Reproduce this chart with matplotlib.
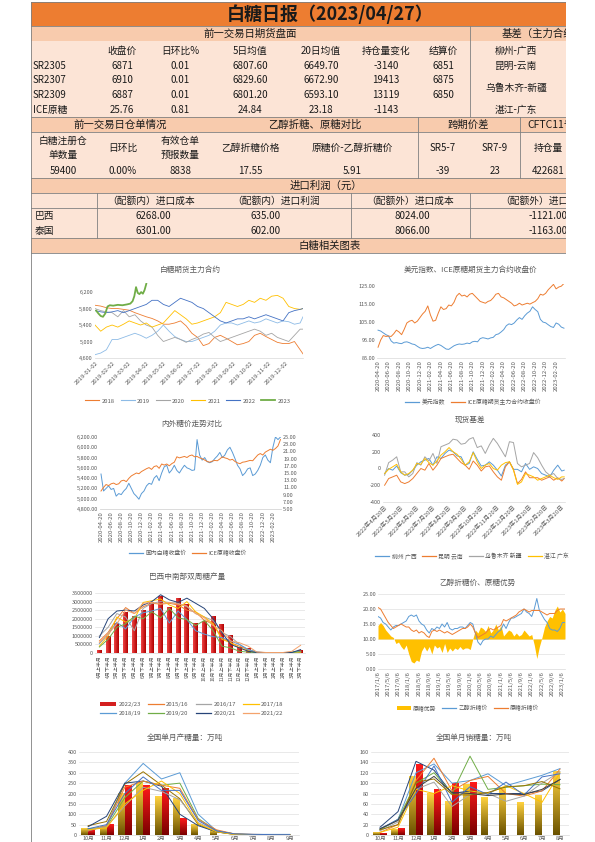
import numpy as np
import matplotlib
matplotlib.use('Agg')
import matplotlib.pyplot as plt
from matplotlib.colors import LinearSegmentedColormap
from matplotlib.patches import Rectangle, Patch
from matplotlib.lines import Line2D

plt.rcParams['font.family'] = ['Noto Sans CJK SC', 'DejaVu Sans']
plt.rcParams['axes.unicode_minus'] = False

# ---------------- table data ----------------
fut_names = ['SR2305', 'SR2307', 'SR2309', 'ICE原糖']
fut_close = ['6871', '6910', '6887', '25.76']
fut_chg = ['0.01', '0.01', '0.01', '0.81']
fut_ma5 = ['6807.60', '6829.60', '6801.20', '24.84']
fut_ma20 = ['6649.70', '6672.90', '6593.10', '23.18']
fut_oi = ['-3140', '19413', '13119', '-1143']
fut_settle = ['6851', '6875', '6850', '']
basis_names = ['柳州-广西', '昆明-云南', '乌鲁木齐-新疆', '湛江-广东']

wr_vals = ['59400', '0.00%', '8838', '17.55', '5.91', '-39', '23', '422681']
imp_names = ['巴西', '泰国']
imp_cost_in = ['6268.00', '6301.00']
imp_prof_in = ['635.00', '602.00']
imp_cost_out = ['8024.00', '8066.00']
imp_prof_out = ['-1121.00', '-1163.00']

# ---------------- chart 1: 白糖期货主力合约 ----------------
days = list(range(0, 361, 10)) + [365]
sr2018 = [5880, 5860, 5820, 5800, 5800, 5780, 5760, 5700, 5650, 5600, 5560, 5500, 5420, 5420, 5450, 5500, 5380, 5200, 5100,
          4900, 4950, 5100, 5150, 5080, 5000, 4920, 4950, 5000, 5150, 5200, 5120, 5050, 4980, 4950, 4950, 5000, 4800, 4700]
sr2019 = [4680, 4720, 4800, 5050, 5050, 5100, 5150, 5200, 5150, 5080, 5150, 5250, 5400, 5250, 5120, 5050, 5000, 5000, 5050,
          5100, 5150, 5250, 5400, 5450, 5450, 5400, 5450, 5500, 5450, 5480, 5550, 5500, 5450, 5500, 5480, 5420, 5450, 5600]
sr2020 = [5800, 5750, 5720, 5700, 5600, 5750, 5600, 5650, 5500, 5400, 5350, 5150, 5000, 5050, 5100, 5050, 4980, 5050, 5100,
          5180, 5220, 5100, 5000, 5050, 5100, 5150, 5200, 5250, 5300, 5250, 5150, 5200, 5100, 5050, 5000, 5150, 5300, 5300]
sr2021 = [5400, 5250, 5350, 5400, 5350, 5420, 5500, 5450, 5400, 5450, 5350, 5400, 5450, 5600, 5750, 5650, 5550, 5420, 5450,
          5500, 5550, 5600, 5700, 5950, 5900, 5850, 5900, 6000, 5950, 6050, 6000, 6100, 6120, 6050, 5850, 5800, 5780, 5800]
sr2022 = [5750, 5720, 5700, 5720, 5750, 5700, 5750, 5800, 5850, 5900, 6000, 6000, 5900, 5850, 5950, 6050, 6000, 5950, 5850,
          5800, 5700, 5600, 5500, 5450, 5500, 5550, 5550, 5600, 5550, 5600, 5650, 5600, 5550, 5500, 5700, 5750, 5780, 5800]
days23 = [2, 6, 10, 14, 18, 22, 26, 32, 40, 48, 56, 62, 66, 69, 72, 75, 78, 81, 84, 87, 90]
sr2023 = [5750, 5680, 5620, 5600, 5680, 5850, 5880, 5870, 5890, 5880, 5900, 5920, 5980, 6100, 6320, 6180, 6150, 6200, 6160,
          6250, 6400]
c1_ticks = [1, 32, 60, 91, 121, 152, 182, 213, 244, 274, 305, 335]
c1_labels = ['2019-%02d-02' % m for m in range(1, 13)]

# ---------------- chart 2 / 3: month index from 2020-04-20 ----------------
m_half = [i * 0.5 for i in range(72)]
dxy = [100.5, 100, 99, 98, 97.3, 94.5, 93.3, 93.6, 93.2, 93, 93.8, 94, 93.5, 92.8, 92.5, 91.5, 90.6, 90.3, 90.5, 91,
       90.3, 91.2, 92, 92.6, 92, 91, 90, 89.8, 90.8, 91.8, 92.4, 92.8, 92.6, 92.8, 93.3, 93, 94, 94.3, 94, 95.8,
       96.3, 96, 95.6, 96.2, 96.5, 98, 98.4, 99.5, 100.8, 103, 104, 103.6, 104.5, 106.2, 107.5, 106.5, 108.5, 110, 111,
       113.5, 112, 110.8, 106.5, 105, 104.6, 103.5, 102.5, 102, 104.5, 103.8, 102.2, 101.6]
ice_idx = [91, 95, 97.5, 97, 97.2, 97, 98.5, 100.5, 99.5, 98, 101, 104.5, 105.5, 106, 104.5, 105.5, 107.5, 109.5, 111, 114,
           109, 105.5, 106, 110, 113.5, 112, 112.5, 114.5, 114, 116, 119.5, 121, 119.5, 120, 119, 120.5, 121, 119.5, 118,
           116.5, 116, 115.5, 116.5, 117, 118.5, 120.5, 121, 119, 118.5, 117.5, 116.5, 115.5, 114, 114.5, 115.5, 114.5,
           115, 115.5, 115, 115.8, 116.5, 118, 120.5, 120, 121, 123, 124.5, 126, 123.5, 124.5, 125, 126.5]
dom_close = [5480, 5150, 5200, 5250, 5180, 5200, 5050, 5100, 5080, 5150, 5200, 5300, 5200, 5100, 5050, 4990, 5100, 5150,
             5250, 5300, 5280, 5400, 5450, 5350, 5500, 5620, 5650, 5500, 5560, 5650, 5550, 5500, 5580, 5650, 5600, 5580,
             5550, 5560, 6150, 5850, 5750, 5800, 5720, 5700, 5720, 5780, 5830, 5900, 5800, 5850, 5950, 6000, 5900, 5780,
             5650, 5580, 5450, 5500, 5580, 5600, 5450, 5480, 5550, 5650, 5800, 5850, 5750, 5700, 6000, 6200, 6150, 6200]
ice_close = [10, 11, 11.8, 11.5, 12, 12.2, 11.8, 12, 12.8, 13, 12.6, 13.5, 14.2, 14.6, 15, 14.8, 15.4, 15.8, 16.2, 16.5,
             16, 16.8, 17, 16.3, 17.5, 17.2, 17.5, 17, 17.6, 18, 19.5, 19.2, 19.4, 19.6, 19.3, 19.8, 20, 19.5, 19.6, 19.2,
             19, 18.6, 18.2, 18, 18.3, 18.5, 18.4, 18.9, 19.5, 19.2, 19, 18.6, 18.8, 18.2, 17.8, 17.6, 18, 18.1, 18.3, 18.5,
             18.4, 19.2, 20, 20.4, 20, 20.8, 21.2, 21.6, 21.3, 21.8, 22.5, 24.3]
m2_labels = ['2020-04-20', '2020-06-20', '2020-08-20', '2020-10-20', '2020-12-20', '2021-02-20', '2021-04-20',
             '2021-06-20', '2021-08-20', '2021-10-20', '2021-12-20', '2022-02-20', '2022-04-20', '2022-06-20',
             '2022-08-20', '2022-10-20', '2022-12-20', '2023-02-20']

# ---------------- chart 4: 现货基差 ----------------
n_q = [i * 0.25 for i in range(45)] + [11.15]
b_liuzhou = [-60, 0, -20, 30, -50, -80, -70, -20, 40, 80, 100, 120, 40, 140, 120, 180, 220, 200, 150, 140, 40, 60, 200, 110,
             30, 40, 80, 40, -20, -90, 40, 80, -10, -10, -40, 60, -10, 20, 0, -60, -80, -100, -20, 40, -30, -20]
b_kunming = [-200, -120, -100, -80, -160, -180, -160, -120, -60, 0, -20, 60, -20, 40, 120, 140, 160, 170, 120, 70, 40, -10,
             90, 40, -30, 20, 30, -40, -100, -140, 20, 80, -10, -180, -130, -40, -110, -110, -110, -140, -120, -100, -140,
             -110, -150, -120]
b_urumqi = [-80, 70, 100, 140, -40, -40, -100, -60, 70, 40, 140, 90, 180, 60, 260, 280, 300, 350, 340, 290, 300, 350, 370,
            250, 270, 180, 280, 360, 300, 220, 140, 320, 310, 60, 20, 40, 60, 190, 130, 40, -40, -80, -60, -120, -130, -120]
b_zhanjiang = [-60, -10, 20, 50, -40, -80, -60, -20, 60, 50, 120, 70, 40, 90, 160, 200, 250, 200, 170, 110, 40, 80, 190, 80,
               0, 40, 60, 0, -20, 40, 70, 80, -20, -190, -160, -60, -80, -100, -140, -120, -100, -80, -110, -130, -100, -100]
c4_labels = ['2022年%d月20日' % m for m in range(4, 13)] + ['2023年%d月20日' % m for m in range(1, 4)]

# ---------------- chart 5: 巴西中南部双周糖产量 ----------------
half_months = [m + h for m in ['4月', '5月', '6月', '7月', '8月', '9月', '10月', '11月', '12月', '1月', '2月', '3月']
               for h in ['上半月', '下半月']]
br_2223 = [120000, 950000, 1700000, 2350000, 2150000, 2500000, 2950000, 3300000, 2650000, 3150000, 2850000, 1700000,
           1850000, 2150000, 1650000, 1000000, 300000, 250000, 0, 30000, 0, 0, 0, 150000]
br_1516 = [700000, 1200000, 2000000, 2650000, 2300000, 2700000, 2900000, 2850000, 2900000, 2800000, 2500000, 2400000,
           1900000, 1700000, 900000, 600000, 400000, 200000, 50000, 30000, 20000, 20000, 30000, 100000]
br_1617 = [1000000, 1500000, 2300000, 2100000, 1300000, 2600000, 2900000, 3000000, 2950000, 2900000, 2700000, 2300000,
           2100000, 1900000, 1200000, 950000, 500000, 200000, 50000, 20000, 20000, 20000, 30000, 60000]
br_1718 = [400000, 1000000, 2100000, 1800000, 2000000, 2950000, 3050000, 3150000, 2800000, 2600000, 3000000, 2400000,
           2100000, 1700000, 800000, 600000, 300000, 150000, 30000, 20000, 20000, 20000, 30000, 50000]
br_1819 = [550000, 1100000, 1800000, 1400000, 2100000, 2350000, 2450000, 2600000, 1750000, 2450000, 1950000, 1300000,
           1100000, 950000, 900000, 700000, 500000, 200000, 50000, 20000, 20000, 20000, 50000, 100000]
br_1920 = [350000, 800000, 1500000, 1700000, 2150000, 2000000, 2400000, 2050000, 2600000, 2050000, 1950000, 1600000,
           1900000, 1300000, 400000, 300000, 100000, 50000, 20000, 20000, 20000, 20000, 40000, 80000]
br_2021 = [900000, 2000000, 2450000, 2500000, 2450000, 2800000, 3000000, 3400000, 3100000, 2950000, 3200000, 2900000,
           2600000, 2000000, 1200000, 500000, 300000, 100000, 30000, 20000, 20000, 20000, 30000, 200000]
br_2122 = [600000, 1100000, 1700000, 2500000, 2300000, 2900000, 2950000, 2850000, 2950000, 2850000, 2750000, 2300000,
           2050000, 1600000, 1300000, 700000, 600000, 400000, 50000, 30000, 30000, 30000, 100000, 450000]

# ---------------- chart 6: 乙醇折糖价、原糖优势 (month index from 2017/1/6) ----------------
t_month = list(range(74))
raw_adv = [14.5, 15.5, 14.5, 13, 12, 11, 10.5, 8.5, 9, 7.5, 6.5, 8, 5, 2.5, 2, 3, 2.5, 6, 7.5, 6, 7.5, 5, 8, 7, 7.5, 5.5,
           8.5, 5.5, 7, 6, 7, 6.5, 7.5, 6.5, 7, 7, 6.5, 10, 13, 12, 14, 13.5, 12.5, 14.5, 12, 13, 15, 13, 14.5, 11, 12, 13,
           12.5, 11, 12, 11, 11.5, 13, 12, 11, 11.5, 8, 3.5, 7.5, 10.5, 14, 16, 17.5, 17, 19.5, 21, 19, 20, 18.5]
ethanol_px = [17.5, 17, 15.5, 15, 14, 13, 14, 14.5, 14.5, 15, 15.5, 16, 17.5, 18, 17.5, 18, 16, 15, 14.5, 13, 12, 13.5, 13,
              14, 13.5, 15, 14, 15.5, 13.5, 13, 13.5, 13.5, 14, 14, 13.5, 14.5, 15.5, 15, 12, 9, 8, 9.5, 10, 10, 11, 10.5,
              11.5, 12.5, 13, 15, 13.5, 15.5, 17, 17, 17.5, 18, 18.5, 20, 19, 18.5, 17.5, 20, 23.5, 19.5, 18, 16.5, 15.5,
              13.5, 13, 13, 12.5, 13.5, 15.5, 15.5]
raw_px = [20.5, 20, 18.5, 17, 15.5, 14.5, 13.5, 14, 14.5, 15, 14.5, 14, 14, 13, 12.5, 13, 12, 12.5, 12, 11, 10.5, 12.5, 13,
          12.5, 13, 12.5, 12, 12.5, 12, 11.5, 12, 12.5, 13, 13.5, 13.5, 14, 15, 14, 12, 10.5, 11, 11.5, 12, 13, 13.5, 13,
          13.5, 14, 14.5, 16.5, 16, 16.5, 17, 17.5, 18, 19, 19.5, 20, 19.5, 19, 19.5, 19.5, 19.5, 19.5, 19, 18.5, 18,
          18.5, 18.5, 18.5, 19.5, 20, 20, 20]
c6_labels = ['%d/%d/6' % (2017 + k // 3, [1, 5, 9][k % 3]) for k in range(19)]

# ---------------- chart 7: 全国单月产糖量 ----------------
months12 = ['10月', '11月', '12月', '1月', '2月', '3月', '4月', '5月', '6月', '7月', '8月', '9月']
prod_prev = [30, 40, 200, 255, 185, 175, 50, 20, 0, 0, 0, 0]
prod_cur = [20, 50, 240, 240, 225, 80]
prod_l1 = [20, 45, 250, 345, 270, 300, 100, 20, 5, 3, 3, 3]
prod_l2 = [45, 65, 245, 305, 240, 175, 50, 15, 3, 2, 2, 2]
prod_l3 = [40, 90, 250, 260, 235, 100, 45, 15, 3, 2, 2, 2]
prod_l4 = [30, 40, 180, 260, 240, 250, 80, 20, 5, 2, 2, 2]
prod_l5 = [20, 45, 230, 260, 240, 225, 75, 25, 5, 3, 2, 2]
prod_l6 = [25, 40, 140, 230, 210, 170, 60, 20, 3, 2, 2, 2]
prod_l7 = [25, 35, 150, 215, 260, 200, 55, 15, 2, 2, 2, 2]
prod_l8 = [30, 50, 200, 280, 215, 215, 70, 20, 5, 3, 2, 2]

# ---------------- chart 8: 全国单月销糖量 ----------------
months11 = months12[:11]
sale_prev = [4, 10, 112, 80, 65, 98, 73, 90, 63, 76, 122]
sale_cur = [2, 12, 135, 87, 100, 101]
sale_l1 = [15, 45, 142, 125, 80, 85, 80, 80, 80, 85, 107]
sale_l2 = [10, 30, 120, 137, 100, 105, 118, 95, 105, 115, 128]
sale_l3 = [5, 20, 105, 148, 85, 105, 113, 80, 75, 85, 127]
sale_l4 = [10, 30, 100, 120, 80, 152, 88, 92, 95, 98, 97]
sale_l5 = [8, 25, 88, 102, 55, 78, 80, 65, 75, 100, 122]
sale_l6 = [5, 15, 88, 80, 95, 85, 80, 95, 80, 63, 120]
sale_l7 = [12, 30, 80, 133, 63, 93, 78, 102, 77, 112, 118]
sale_l8 = [10, 20, 102, 108, 78, 77, 82, 93, 95, 103, 89]
sale_l9 = [12, 28, 90, 113, 82, 80, 76, 79, 78, 88, 107]

# ---------------- layout helpers ----------------
W, H = 595, 842
fig = plt.figure(figsize=(W / 100, H / 100), dpi=100)
GRAY = '#595959'


def box(l, t, r, b):
    return [l / W, 1 - b / H, (r - l) / W, (b - t) / H]


def ftext(x, y, s, size=5.5, **kw):
    fig.text(x / W, 1 - y / H, s, fontsize=size, ha='center', va='center', color=kw.pop('color', GRAY), **kw)


def style(ax, grid=False):
    for s in ['top', 'right', 'left']:
        ax.spines[s].set_visible(False)
    ax.spines['bottom'].set_color('#D9D9D9')
    ax.spines['bottom'].set_linewidth(0.5)
    ax.tick_params(length=0, labelsize=4, colors=GRAY, pad=1.5)
    if grid:
        ax.yaxis.grid(True, color='#D9D9D9', lw=0.4)
        ax.set_axisbelow(True)


def legend(handles, labels, x, y, ncol, size=4.2):
    fig.legend(handles, labels, loc='center', bbox_to_anchor=(x / W, 1 - y / H), ncol=ncol, frameon=False,
               fontsize=size, handlelength=2.4, handletextpad=0.4, columnspacing=1.0, labelcolor=GRAY,
               borderaxespad=0, borderpad=0)


def grad_bar(ax, x, w, h, cmap, horizontal=False):
    if h <= 0:
        return
    img = np.linspace(0, 1, 64).reshape(1, -1) if horizontal else np.linspace(0, 1, 64).reshape(-1, 1)
    ax.imshow(img, extent=(x - w / 2, x + w / 2, 0, h), cmap=cmap, aspect='auto', origin='lower', zorder=2,
              interpolation='bilinear')


red_v = LinearSegmentedColormap.from_list('rv', ['#7A0000', '#FF1A1A'])
red_h = LinearSegmentedColormap.from_list('rh', ['#F04545', '#B00000'])
gold_v = LinearSegmentedColormap.from_list('gv', ['#6B5200', '#FFD23F'])

# ---------------- table ----------------
tb = fig.add_axes(box(0, 0, 566, 842))
tb.set_xlim(0, 566)
tb.set_ylim(842, 0)
tb.axis('off')


def fill(y0, y1, c):
    tb.add_patch(Rectangle((31, y0), 566 - 31, y1 - y0, facecolor=c, edgecolor='none', zorder=0))


def hl(y, x0=31, x1=566):
    tb.plot([x0, x1], [y, y], color='#808080', lw=0.6, zorder=1)


def vl(x, y0, y1):
    tb.plot([x, x], [y0, y1], color='#808080', lw=0.6, zorder=1)


def t(x, y, s, ha='center', size=7, **kw):
    tb.text(x, y, s, ha=ha, va='center', fontsize=size, clip_on=True, color=kw.pop('color', '#1A1A1A'), **kw)


fill(2, 26, '#ED7D31')
for y0, y1 in [(26, 41), (117, 132), (178, 193), (238, 253)]:
    fill(y0, y1, '#F8CBAD')
for y0, y1 in [(41, 117), (132, 178), (193, 238)]:
    fill(y0, y1, '#FCE4D6')
for y in [2, 26, 117, 132, 178, 193, 208, 238, 253]:
    hl(y)
vl(31, 2, 842)
vl(470, 26, 117)
vl(418, 117, 178)
vl(520, 117, 178)
vl(97, 193, 238)
vl(351, 193, 238)
vl(470, 193, 238)

t(330, 14, '白糖日报（2023/04/27）', size=13, weight='bold')
t(250, 33.5, '前一交易日期货盘面', size=7.5)
t(502, 33.5, '基差（主力合约）', ha='left', size=7.5)
col_x = [122, 180, 250, 321, 386, 443]
for x, s in zip(col_x, ['收盘价', '日环比%', '5日均值', '20日均值', '持仓量变化', '结算价']):
    t(x, 51, s)
row_y = [66, 80, 95, 110]
for i, y in enumerate(row_y):
    t(33, y, fut_names[i], ha='left')
    for x, col in zip(col_x, [fut_close, fut_chg, fut_ma5, fut_ma20, fut_oi, fut_settle]):
        t(x, y, col[i])
for y, s in zip([51, 66, 88, 110], basis_names):
    t(516, y, s)

t(120, 124.5, '前一交易日仓单情况', size=7.5)
t(315, 124.5, '乙醇折糖、原糖对比', size=7.5)
t(468, 124.5, '跨期价差', size=7.5)
t(527, 124.5, 'CFTC11号糖', ha='left', size=7.5)
wr_x = [63, 123, 180, 250, 352, 443, 495, 548]
for x, s in zip(wr_x, ['白糖注册仓\n单数量', '日环比', '有效仓单\n预报数量', '乙醇折糖价格', '原糖价-乙醇折糖价',
                       'SR5-7', 'SR7-9', '持仓量']):
    t(x, 148, s, linespacing=1.6)
for x, s in zip(wr_x, wr_vals):
    t(x, 171, s)

t(326, 185.5, '进口利润（元）', size=7.5)
t(151, 201, '（配额内）进口成本')
t(276, 201, '（配额内）进口利润')
t(410, 201, '（配额外）进口成本')
t(500, 201, '（配额外）进口利润', ha='left')
for i, y in enumerate([216, 231]):
    t(35, y, imp_names[i], ha='left')
    t(153, y, imp_cost_in[i])
    t(266, y, imp_prof_in[i])
    t(412, y, imp_cost_out[i])
    t(548, y, imp_prof_out[i])
t(330, 245.5, '白糖相关图表', size=7.5)

# ---------------- chart 1 ----------------
c1 = fig.add_axes(box(95, 283, 303, 358))
style(c1)
cols1 = ['#ED7D31', '#8DBBE6', '#A5A5A5', '#FFC000', '#4472C4', '#70AD47']
for ser, c in zip([sr2018, sr2019, sr2020, sr2021, sr2022], cols1):
    c1.plot(days, ser, color=c, lw=0.6)
c1.plot(days23, sr2023, color=cols1[5], lw=1.3)
c1.set_xlim(0, 365)
c1.set_ylim(4600, 6420)
c1.set_yticks([4600, 5000, 5400, 5800, 6200])
c1.set_yticklabels(['4,600', '5,000', '5,400', '5,800', '6,200'])
c1.set_xticks(c1_ticks)
c1.set_xticklabels(c1_labels, rotation=45, ha='right', rotation_mode='anchor', fontsize=4.3)
ftext(190, 270, '白糖期货主力合约')
legend([Line2D([], [], color=c, lw=1.3 if i == 5 else 0.8) for i, c in enumerate(cols1)],
       ['2018', '2019', '2020', '2021', '2022', '2023'], 188, 401, 6)

# ---------------- chart 2 ----------------
c2 = fig.add_axes(box(377, 284, 565, 358))
style(c2)
c2.plot(m_half, dxy, color='#5B9BD5', lw=0.7)
c2.plot(m_half, ice_idx, color='#ED7D31', lw=0.7)
c2.set_xlim(-0.2, 35.7)
c2.set_ylim(85, 126.2)
c2.set_yticks([85, 95, 105, 115, 125])
c2.set_yticklabels(['85.00', '95.00', '105.00', '115.00', '125.00'])
c2.set_xticks(range(0, 36, 2))
c2.set_xticklabels(m2_labels, rotation=90, fontsize=4.3)
ftext(470, 270, '美元指数、ICE原糖期货主力合约收盘价')
legend([Line2D([], [], color='#5B9BD5', lw=0.9), Line2D([], [], color='#ED7D31', lw=0.9)],
       ['美元指数', 'ICE原糖期货主力合约收盘价'], 473, 402, 2)

# ---------------- chart 3 ----------------
c3 = fig.add_axes(box(100, 437, 281, 509))
style(c3)
c3r = c3.twinx()
style(c3r)
c3.plot(m_half, dom_close, color='#5B9BD5', lw=0.7)
c3r.plot(m_half, ice_close, color='#ED7D31', lw=0.7)
c3.set_xlim(-0.2, 35.6)
c3.set_ylim(4800, 6200)
c3r.set_ylim(5, 25)
c3.set_yticks(range(4800, 6201, 200))
c3.set_yticklabels(['{:,.2f}'.format(v) for v in range(4800, 6201, 200)])
c3r.set_yticks(range(5, 26, 2))
c3r.set_yticklabels(['%.2f' % v for v in range(5, 26, 2)])
c3.set_xticks(range(0, 36, 2))
c3.set_xticklabels(m2_labels, rotation=90, fontsize=4.3)
ftext(192, 424, '内外糖价走势对比')
legend([Line2D([], [], color='#5B9BD5', lw=0.9), Line2D([], [], color='#ED7D31', lw=0.9)],
       ['国内白糖收盘价', 'ICE原糖收盘价'], 188, 553, 2)

# ---------------- chart 4 ----------------
c4 = fig.add_axes(box(383, 435, 565, 502))
style(c4)
cols4 = ['#5B9BD5', '#ED7D31', '#A5A5A5', '#FFC000']
for ser, c in zip([b_liuzhou, b_kunming, b_urumqi, b_zhanjiang], cols4):
    c4.plot(n_q, ser, color=c, lw=0.7)
c4.set_xlim(-0.1, 11.2)
c4.set_ylim(-400, 400)
c4.set_yticks([-400, -200, 0, 200, 400])
c4.set_xticks(range(12))
c4.set_xticklabels(c4_labels, rotation=45, ha='right', rotation_mode='anchor', fontsize=4.3)
ftext(470, 420, '现货基差')
legend([Line2D([], [], color=c, lw=0.9) for c in cols4], ['柳州 广西', '昆明 云南', '乌鲁木齐 新疆', '湛江 广东'],
       472, 556, 4)

# ---------------- chart 5 ----------------
c5 = fig.add_axes(box(95, 593, 305, 653))
style(c5, grid=True)
for i, v in enumerate(br_2223):
    grad_bar(c5, i, 0.55, v, red_h, horizontal=True)
cols5 = ['#ED7D31', '#A5A5A5', '#FFC000', '#5B9BD5', '#70AD47', '#264478', '#F4A36C']
ser5 = [br_1516, br_1617, br_1718, br_1819, br_1920, br_2021, br_2122]
for ser, c in zip(ser5, cols5):
    c5.plot(range(24), ser, color=c, lw=0.7, zorder=3)
c5.set_xlim(-0.5, 23.5)
c5.set_ylim(0, 3500000)
c5.set_yticks(range(0, 3500001, 500000))
c5.set_yticklabels([str(v) for v in range(0, 3500001, 500000)])
c5.set_xticks(range(24))
c5.set_xticklabels(half_months, rotation=90, fontsize=3.6)
ftext(187, 577, '巴西中南部双周糖产量')
h5 = [Patch(facecolor='#D42020')] + [Line2D([], [], color=c, lw=0.9) for c in cols5]
l5 = ['2022/23', '2015/16', '2016/17', '2017/18', '2018/19', '2019/20', '2020/21', '2021/22']
order = [0, 4, 1, 5, 2, 6, 3, 7]
fig.legend([h5[i] for i in order], [l5[i] for i in order], loc='center', bbox_to_anchor=(192 / W, 1 - 709 / H),
           ncol=4, frameon=False, fontsize=4.3, handlelength=2.6, handletextpad=0.4, columnspacing=1.2,
           labelcolor=GRAY, borderpad=0, labelspacing=0.7)

# ---------------- chart 6 ----------------
c6 = fig.add_axes(box(378, 594, 565, 669))
style(c6, grid=True)
c6.fill_between(t_month, 10, raw_adv, color='#FFC000', lw=0, zorder=2)
c6.plot(t_month, ethanol_px, color='#5B9BD5', lw=0.7, zorder=3)
c6.plot(t_month, raw_px, color='#ED7D31', lw=0.7, zorder=3)
c6.set_xlim(0, 73)
c6.set_ylim(0, 25)
c6.set_yticks(range(0, 26, 5))
c6.set_yticklabels(['%.2f' % v for v in range(0, 26, 5)])
c6.set_xticks(range(0, 73, 4))
c6.set_xticklabels(c6_labels, rotation=90, fontsize=4.3)
ftext(478, 583, '乙醇折糖价、原糖优势')
legend([Patch(facecolor='#FFC000'), Line2D([], [], color='#5B9BD5', lw=0.9), Line2D([], [], color='#ED7D31', lw=0.9)],
       ['原糖优势', '乙醇折糖价', '原糖折糖价'], 468, 708, 3)

# ---------------- chart 7 ----------------
c7 = fig.add_axes(box(79, 752, 299, 835))
style(c7, grid=True)
for i, v in enumerate(prod_prev):
    grad_bar(c7, i - 0.19, 0.38, v, gold_v)
for i, v in enumerate(prod_cur):
    grad_bar(c7, i + 0.19, 0.38, v, red_v)
cols7 = ['#5B9BD5', '#997300', '#264478', '#70AD47', '#ED7D31', '#A5A5A5', '#FFC000', '#4472C4']
for ser, c in zip([prod_l1, prod_l2, prod_l3, prod_l4, prod_l5, prod_l6, prod_l7, prod_l8], cols7):
    c7.plot(range(12), ser, color=c, lw=0.7, zorder=3)
c7.set_xlim(-0.5, 11.5)
c7.set_ylim(0, 400)
c7.set_yticks(range(0, 401, 50))
c7.set_xticks(range(12))
c7.set_xticklabels(months12, fontsize=4)
c7.tick_params(axis='x', pad=0.8)
ftext(185, 738, '全国单月产糖量：万吨')

# ---------------- chart 8 ----------------
c8 = fig.add_axes(box(371, 752, 569, 835))
style(c8, grid=True)
for i, v in enumerate(sale_prev):
    grad_bar(c8, i - 0.19, 0.38, v, gold_v)
for i, v in enumerate(sale_cur):
    grad_bar(c8, i + 0.19, 0.38, v, red_v)
cols8 = ['#264478', '#5B9BD5', '#ED7D31', '#70AD47', '#A5A5A5', '#FFC000', '#4472C4', '#997300', '#404040']
for ser, c in zip([sale_l1, sale_l2, sale_l3, sale_l4, sale_l5, sale_l6, sale_l7, sale_l8, sale_l9], cols8):
    c8.plot(range(11), ser, color=c, lw=0.7, zorder=3)
c8.set_xlim(-0.5, 10.5)
c8.set_ylim(0, 160)
c8.set_yticks(range(0, 161, 20))
c8.set_xticks(range(11))
c8.set_xticklabels(months11, fontsize=4)
c8.tick_params(axis='x', pad=0.8)
ftext(474, 738, '全国单月销糖量：万吨')

fig.savefig('out.png', dpi=100)
